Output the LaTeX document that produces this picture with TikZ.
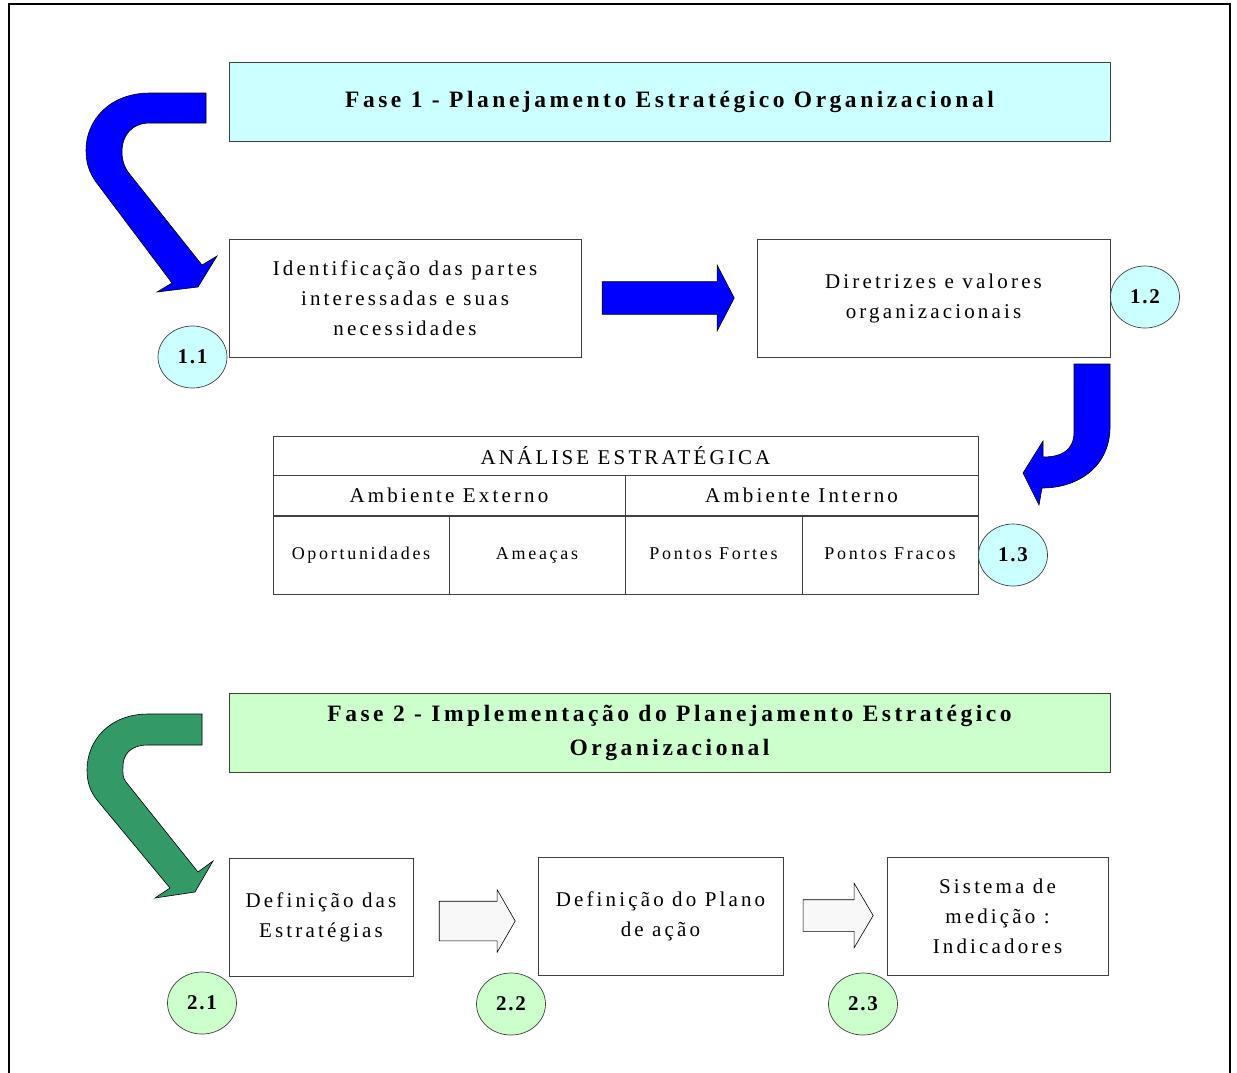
\documentclass[tikz,border=0pt]{standalone}
\usepackage{fontspec}
\setmainfont{Liberation Serif}
\newfontfamily\spacedfont[LetterSpace=15]{Liberation Serif}
\newfontfamily\numfont[LetterSpace=8]{Liberation Serif}
\usetikzlibrary{shapes.geometric,shapes.arrows}
\definecolor{fasecyan}{HTML}{CCFFFF}
\definecolor{fasegreen}{HTML}{CCFFCC}
\definecolor{bendgreen}{HTML}{339966}
\definecolor{arrowwhite}{HTML}{F8F8F8}

\begin{document}
\begin{tikzpicture}[x=1pt,y=-1pt]
  \tikzset{
    box/.style={draw=black!75,line width=0.7pt,align=center,inner sep=0pt,
      font=\spacedfont\fontsize{21}{30}\selectfont},
    phase/.style={box,minimum width=881,minimum height=79,
      font=\spacedfont\bfseries\fontsize{23.5}{34}\selectfont},
    cell/.style={box,minimum height=#1},
    small/.style={font=\spacedfont\fontsize{18}{20}\selectfont,text height=12,text depth=4},
    num/.style={ellipse,draw=black!75,line width=0.7pt,minimum width=69,minimum height=62,
      inner sep=0pt,font=\numfont\bfseries\fontsize{21}{24}\selectfont},
    blockarrow/.style={single arrow,draw=black,line width=0.6pt,inner xsep=0pt},
    bent/.style={draw=black,line width=0.6pt}
  }
  \useasboundingbox (0,0) rectangle (1237,1072);
  \clip (0,0) rectangle (1237,1072);

  % outer frame
  \draw[line width=2.2pt] (9,1090) -- (9,4) -- (1230,4) -- (1230,1090);

  % Fase 1
  \node[phase,fill=fasecyan] (fase1) at (669.5,102)
    {Fase 1 - Planejamento Estratégico Organizacional};
  \node[box,minimum width=352,minimum height=118] (ident) at (405,298)
    {Identificação das partes\\interessadas e suas\\necessidades};
  \node[box,minimum width=353,minimum height=118] (diretr) at (933.5,298)
    {Diretrizes e valores\\organizacionais};
  \node[blockarrow,fill=blue,minimum height=132,inner ysep=16,minimum width=65,
    single arrow head extend=16.5,single arrow tip angle=125] (ar11) at (664,298) {};

  \node[num,fill=fasecyan] (c11) at (192.5,357) {1.1};
  \node[num,fill=fasecyan] (c12) at (1145,297) {1.2};

  % bent arrows of fase 1
  \draw[bent,fill=blue] (206,93) -- (150,93) .. controls (110,93) and (86,120) .. (86,150)
    .. controls (86,163) and (89,172) .. (96,182) -- (172,283) -- (157,292) -- (198,287)
    -- (217,256) -- (202,265) -- (128,172) .. controls (124,166) and (122,160) .. (122,152)
    .. controls (122,135) and (132,123) .. (150,123) -- (206,123) -- cycle;
  \draw[bent,fill=blue] (1074,364) -- (1110,364) -- (1110,427)
    .. controls (1110,465) and (1080,488) .. (1042,488) -- (1039,505) -- (1023,473)
    -- (1043,441) -- (1043,457) .. controls (1062,457) and (1074,450) .. (1074,432) -- cycle;

  % analise estrategica
  \node[cell=39] (analise) at (625.5,455.5) [minimum width=705] {ANÁLISE ESTRATÉGICA};
  \node[cell=40] (externo) at (449,495) [minimum width=352] {Ambiente Externo};
  \node[cell=40] (interno) at (801.5,495) [minimum width=353] {Ambiente Interno};
  \node[cell=78,small] (oport) at (361,555) [minimum width=176] {Oportunidades};
  \node[cell=78,small] (ameacas) at (537,555) [minimum width=176] {Ameaças};
  \node[cell=78,small] (fortes) at (713.5,555) [minimum width=177] {Pontos Fortes};
  \node[cell=78,small] (fracos) at (890,555) [minimum width=176] {Pontos Fracos};
  \node[num,fill=fasecyan] (c13) at (1013,555) {1.3};

  % Fase 2
  \node[phase,fill=fasegreen] (fase2) at (669.5,733)
    {Fase 2 - Implementação do Planejamento Estratégico\\Organizacional};
  \draw[bent,fill=bendgreen] (202,714) -- (148,714) .. controls (110,714) and (87,740) .. (87,770)
    .. controls (87,782) and (90,791) .. (97,800) -- (170,888) -- (155,898) -- (195,892)
    -- (213,861) -- (198,872) -- (126,782) .. controls (122,777) and (123,772) .. (123,766)
    .. controls (123,755) and (130,745) .. (148,745) -- (202,745) -- cycle;

  \node[box,minimum width=184,minimum height=118] (defest) at (321,917)
    {Definição das\\Estratégias};
  \node[box,minimum width=245,minimum height=118] (defplano) at (660.5,916)
    {Definição do Plano\\de ação};
  \node[box,minimum width=221,minimum height=118] (sistema) at (997.5,916)
    {Sistema de\\medição :\\Indicadores};
  \node[blockarrow,fill=arrowwhite,minimum height=76,inner ysep=19.5,minimum width=62,
    single arrow head extend=11.5,single arrow tip angle=120] (ar21) at (471.5,921) {};
  \node[blockarrow,fill=arrowwhite,minimum height=70,inner ysep=15.5,minimum width=64,
    single arrow head extend=16.5,single arrow tip angle=119] (ar22) at (833.5,915.5) {};

  \node[num,fill=fasegreen] (c21) at (202,1003) {2.1};
  \node[num,fill=fasegreen] (c22) at (511,1004) {2.2};
  \node[num,fill=fasegreen] (c23) at (863,1004) {2.3};
\end{tikzpicture}
\end{document}
